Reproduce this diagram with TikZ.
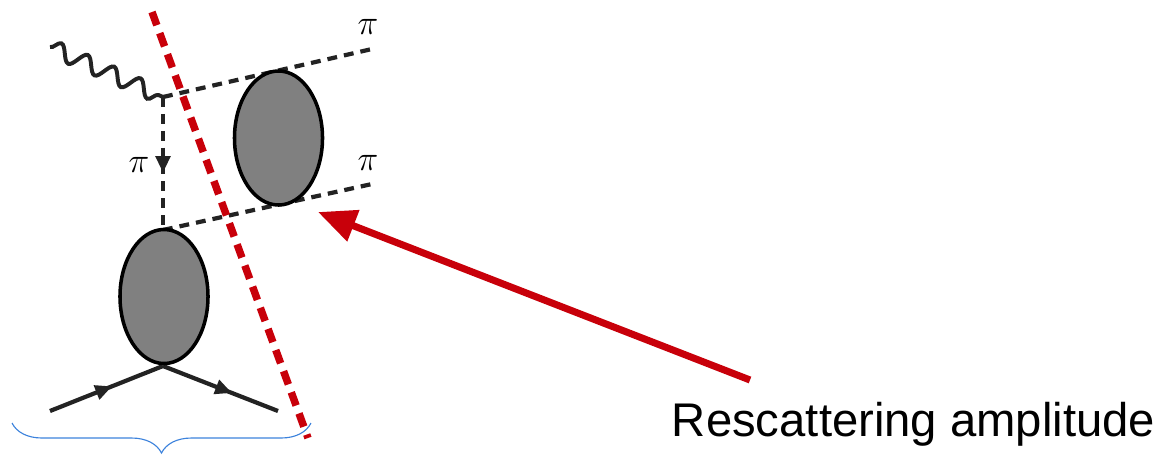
\documentclass[tikz,border=0pt]{standalone}
\usepackage{fontspec}
\setsansfont{Liberation Sans}
\usetikzlibrary{arrows.meta, shapes.geometric, decorations.pathmorphing,
  decorations.pathreplacing, decorations.markings}
\definecolor{cutred}{RGB}{200,0,10}
\definecolor{bracebl}{RGB}{60,130,220}
\definecolor{linegray}{RGB}{35,35,35}

\begin{document}
\begin{tikzpicture}[
  x=0.025cm, y=-0.025cm,
  blob/.style={ellipse, draw, line width=2.5pt, fill=black!50,
               minimum width=2.2cm, minimum height=3.35cm, inner sep=0pt},
  pion/.style={draw=linegray, line width=3pt, dash pattern=on 7pt off 5pt},
  photon/.style={draw=linegray, line width=2.8pt, decorate,
                 decoration={snake, segment length=0.72cm, amplitude=0.2cm}},
  fermion/.style={draw=linegray, line width=3pt},
  midarrow/.style={postaction={decorate, decoration={markings,
                   mark=at position #1 with {\arrow{Triangle[length=0.42cm, width=0.36cm]}}}}},
  pilab/.style={font=\fontsize{25}{28}\selectfont},
  cutline/.style={draw=cutred, line width=5.3pt, dash pattern=on 10pt off 6pt},
  lab/.style={font=\sffamily\fontsize{33.6}{38}\selectfont}
]
  \useasboundingbox (0,0) rectangle (1161,455);

  % vertices
  \coordinate (gin)  at (50,47);
  \coordinate (v1)   at (163,97);
  \coordinate (v2)   at (163,230);
  \coordinate (v3)   at (163,366);
  \coordinate (out1) at (372,49);
  \coordinate (out2) at (372,184);
  \coordinate (qin)  at (50,411);
  \coordinate (qout) at (278,411);

  \draw[photon] (gin) -- (v1);
  \draw[pion] (v1) -- (out1);
  \draw[pion] (v2) -- (out2);
  \draw[pion, midarrow=0.57] (v1) -- (v2);
  \draw[fermion, midarrow=0.55] (qin) -- (v3);
  \draw[fermion, midarrow=0.6] (v3) -- (qout);

  \node[blob] (rescat) at (278.5,138) {};
  \node[blob] (form)   at (164,296.5) {};

  \node[pilab] (pi1) at (368,27)  {$\pi$};
  \node[pilab] (pi2) at (368,163) {$\pi$};
  \node[pilab] (pi3) at (139,165) {$\pi$};

  % cut
  \coordinate (cut1) at (152,12);
  \coordinate (cut2) at (308,438);
  \draw[cutline] (cut1) -- (cut2);

  \node[lab, anchor=base west] (txt) at (667,436) {Rescattering amplitude};
  \coordinate (tail) at (750,380);
  \coordinate (tip)  at (318,212);
  \draw[cutred, line width=5pt, -{Triangle[length=0.95cm, width=0.8cm]}] (tail) -- (tip);

  \coordinate (bl) at (12,423);
  \coordinate (br) at (311,423);
  \draw[bracebl, line width=0.8pt, decorate,
        decoration={brace, mirror, amplitude=0.75cm}] (bl) -- (br);
\end{tikzpicture}
\end{document}
